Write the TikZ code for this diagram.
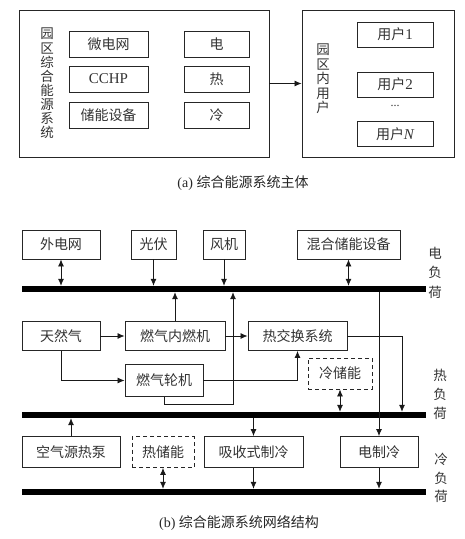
\documentclass[tikz,border=0pt]{standalone}
\usepackage{fontspec}
\setmainfont{Liberation Serif}
\newfontfamily\cjk{Noto Sans CJK SC}
\usetikzlibrary{arrows.meta}
\begin{document}
\begin{tikzpicture}[x=1pt,y=-1pt,
  sz/.style 2 args={minimum width=#1pt, minimum height=#2pt},
  box/.style={draw=black!85, line width=0.9pt, inner sep=0pt, text=black!80, font=\cjk\fontsize{14}{16}\selectfont},
  dbox/.style={box, dash pattern=on 4pt off 3pt},
  bus/.style={fill=black, inner sep=0pt, minimum width=404pt, minimum height=6pt},
  ln/.style={draw=black!90, line width=0.8pt},
  arr/.style={ln, -{Latex[length=7pt,width=6pt]}},
  darr/.style={ln, {Latex[length=7pt,width=6pt]}-{Latex[length=7pt,width=6pt]}},
  vtext/.style={align=center, inner sep=0pt, text=black!80},
  captxt/.style={text=black!85, font=\fontsize{14}{16}\selectfont, inner sep=0pt},
]
\fill[white] (0,0) rectangle (465,539);
\useasboundingbox (0,0) rectangle (465,539);

% ---------- (a) ----------
\node[box, sz={250}{147}] (bigL) at (144,83.5) {};
\node[box, sz={152}{147}] (bigR) at (378,83.5) {};
\node[vtext, font=\cjk\fontsize{13.5}{14.1}\selectfont] (vl) at (47,83.5) {园\\区\\综\\合\\能\\源\\系\\统};
\node[vtext, font=\cjk\fontsize{13.5}{14.4}\selectfont] (vr) at (323,79) {园\\区\\内\\用\\户};

\node[box, sz={79}{26}] (mg) at (108.5,44) {微电网};
\node[box, sz={79}{26}, font=\fontsize{15}{17}\selectfont] (cchp) at (108.5,79) {CCHP};
\node[box, sz={79}{26}] (es) at (108.5,115) {储能设备};
\node[box, sz={65}{26}] (dian) at (216.5,44) {电};
\node[box, sz={65}{26}] (re) at (216.5,79) {热};
\node[box, sz={65}{26}] (leng) at (216.5,115) {冷};

\node[box, sz={76}{25}] (u1) at (395,34.5) {用户{\rmfamily\fontsize{15}{17}\selectfont 1}};
\node[box, sz={76}{25}] (u2) at (395,84.5) {用户{\rmfamily\fontsize{15}{17}\selectfont 2}};
\node[text=black!80, inner sep=0pt, font=\fontsize{12}{13}\selectfont] (dots) at (395,106) {...};
\node[box, sz={76}{25}] (un) at (395,134) {用户{\rmfamily\itshape\fontsize{15}{17}\selectfont N}};

\draw[arr] (bigL) -- (bigR);
\node[captxt] (capa) at (243,183) {(a) {\cjk 综合能源系统主体}};

% ---------- (b) ----------
\node[box, sz={78}{29}] (grid) at (61,244.5) {外电网};
\node[box, sz={45}{29}] (pv) at (153.5,244.5) {光伏};
\node[box, sz={42}{29}] (wind) at (224,244.5) {风机};
\node[box, sz={103}{29}] (hyb) at (348.5,244.5) {混合储能设备};

\node[bus] (ebus) at (224,289) {};
\node[vtext, font=\cjk\fontsize{13.5}{19.5}\selectfont] (elab) at (435,272.5) {电\\负\\荷};

\node[box, sz={78}{29}] (ng) at (61,336) {天然气};
\node[box, sz={100}{29}] (ice) at (175,336) {燃气内燃机};
\node[box, sz={99}{29}] (hx) at (297.5,336) {热交换系统};
\node[box, sz={78}{32}] (gt) at (164,380.5) {燃气轮机};
\node[dbox, sz={64}{31}] (cs) at (340,373.5) {冷储能};

\node[bus] (hbus) at (224,415) {};
\node[vtext, font=\cjk\fontsize{13.5}{19}\selectfont] (hlab) at (440,394) {热\\负\\荷};

\node[box, sz={98}{31}] (hp) at (71,452) {空气源热泵};
\node[dbox, sz={62}{31}] (hs) at (163,452) {热储能};
\node[box, sz={99}{31}] (ac) at (253.5,452) {吸收式制冷};
\node[box, sz={78}{31}] (ec) at (379,452) {电制冷};

\node[bus] (cbus) at (224,492) {};
\node[vtext, font=\cjk\fontsize{13.5}{18.5}\selectfont] (clab) at (441,478) {冷\\负\\荷};

\coordinate (hxd) at (402,336);
\coordinate (gtc) at (233,404);

% connectors to electric bus
\draw[darr] (grid.south) -- (grid.south |- ebus.north);
\draw[arr] (pv.south) -- (pv.south |- ebus.north);
\draw[arr] (wind.south) -- (wind.south |- ebus.north);
\draw[darr] (hyb.south) -- (hyb.south |- ebus.north);
\draw[arr] (ice.north) -- (ice.north |- ebus.south);
\draw[arr] (gt.south) |- (gtc) -- (gtc |- ebus.south);
\draw[arr] (ec.north |- ebus.south) -- (ec.north);

% gas and heat flows
\draw[arr] (ng) -- (ice);
\draw[arr] (ice) -- (hx);
\draw[arr] (ng.south) |- (gt.west);
\draw[arr] (gt.east) -| (hx.south);
\draw[arr] (hx.east) -- (hxd) -- (hxd |- hbus.north);
\draw[darr] (cs.south) -- (cs.south |- hbus.north);

% heat bus to cooling
\draw[arr] (hp.north) -- (hp.north |- hbus.south);
\draw[arr] (ac.north |- hbus.south) -- (ac.north);

% cold bus
\draw[darr] (hs.south) -- (hs.south |- cbus.north);
\draw[arr] (ac.south) -- (ac.south |- cbus.north);
\draw[arr] (ec.south) -- (ec.south |- cbus.north);

\node[captxt] (capb) at (239,523) {(b) {\cjk 综合能源系统网络结构}};
\end{tikzpicture}
\end{document}
